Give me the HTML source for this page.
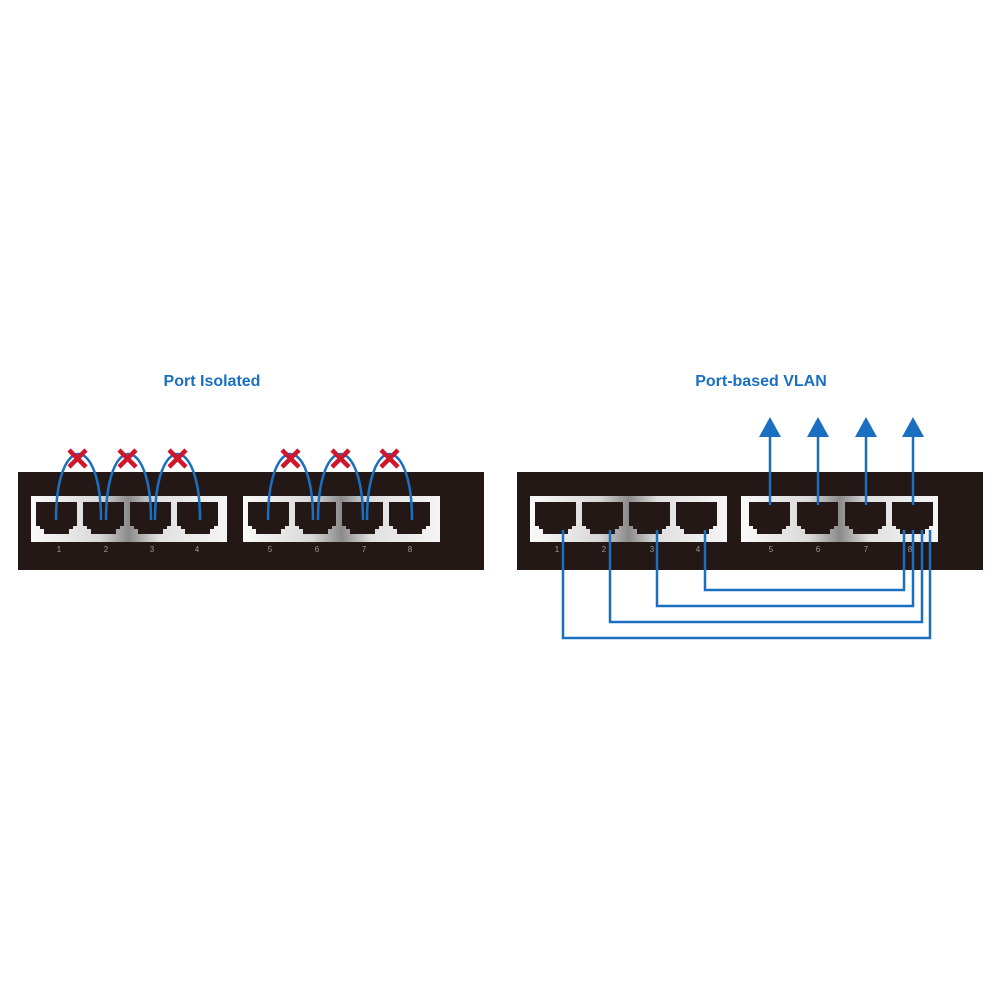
<!DOCTYPE html>
<html><head><style>body{margin:0;background:#fff}svg{display:block}</style></head><body>
<svg width="1000" height="1000" viewBox="0 0 1000 1000" xmlns="http://www.w3.org/2000/svg">
<defs>
<linearGradient id="sil" x1="0" x2="1" y1="0" y2="0">
<stop offset="0" stop-color="#fafafa"/><stop offset="0.35" stop-color="#d8d8d8"/><stop offset="0.5" stop-color="#8a8a8a"/><stop offset="0.65" stop-color="#e0e0e0"/><stop offset="1" stop-color="#f5f5f5"/>
</linearGradient>
<path id="port" d="M0,0 H41 V24 H37 V27 H33 V32 H8 V27 H4 V24 H0 Z" fill="#231815"/>
</defs>
<g font-family="Liberation Sans, sans-serif" font-weight="bold" font-size="16" fill="#1a6fc0" text-anchor="middle">
<text x="212" y="386">Port Isolated</text>
<text x="761" y="386">Port-based VLAN</text>
</g>
<rect x="18" y="472" width="466" height="98" fill="#231815"/>
<rect x="31" y="496" width="196" height="46" fill="url(#sil)"/>
<rect x="243" y="496" width="197" height="46" fill="url(#sil)"/>
<g>
<use href="#port" x="36" y="502"/><use href="#port" x="83" y="502"/><use href="#port" x="130" y="502"/><use href="#port" x="177" y="502"/>
<use href="#port" x="248" y="502"/><use href="#port" x="295" y="502"/><use href="#port" x="342" y="502"/><use href="#port" x="389" y="502"/>
</g>
<g font-family="Liberation Sans, sans-serif" font-size="8" fill="#999" text-anchor="middle">
<text x="59" y="552">1</text><text x="106" y="552">2</text><text x="152" y="552">3</text><text x="197" y="552">4</text>
<text x="270" y="552">5</text><text x="317" y="552">6</text><text x="364" y="552">7</text><text x="410" y="552">8</text>
</g>
<g fill="none" stroke="#1a6fc0" stroke-width="2.5">
<path d="M56,520 C56,432 101,432 101,520"/>
<path d="M106,520 C106,432 151,432 151,520"/>
<path d="M155,520 C155,432 200,432 200,520"/>
<path d="M268,520 C268,432 313,432 313,520"/>
<path d="M318,520 C318,432 363,432 363,520"/>
<path d="M367,520 C367,432 412,432 412,520"/>
</g>
<g stroke="#d0162a" stroke-width="4.5">
<path d="M69,450 L86,467 M86,450 L69,467"/>
<path d="M119,450 L136,467 M136,450 L119,467"/>
<path d="M169,450 L186,467 M186,450 L169,467"/>
<path d="M282,450 L299,467 M299,450 L282,467"/>
<path d="M332,450 L349,467 M349,450 L332,467"/>
<path d="M381,450 L398,467 M398,450 L381,467"/>
</g>
<rect x="517" y="472" width="466" height="98" fill="#231815"/>
<rect x="530" y="496" width="197" height="46" fill="url(#sil)"/>
<rect x="741" y="496" width="197" height="46" fill="url(#sil)"/>
<g>
<use href="#port" x="535" y="502"/><use href="#port" x="582" y="502"/><use href="#port" x="629" y="502"/><use href="#port" x="676" y="502"/>
<use href="#port" x="749" y="502"/><use href="#port" x="797" y="502"/><use href="#port" x="845" y="502"/><use href="#port" x="892" y="502"/>
</g>
<g font-family="Liberation Sans, sans-serif" font-size="8" fill="#999" text-anchor="middle">
<text x="557" y="552">1</text><text x="604" y="552">2</text><text x="652" y="552">3</text><text x="698" y="552">4</text>
<text x="771" y="552">5</text><text x="818" y="552">6</text><text x="866" y="552">7</text><text x="910" y="552">8</text>
</g>
<g fill="none" stroke="#1a6fc0" stroke-width="2.5">
<path d="M770,505 V432 M818,505 V432 M866,505 V432 M913,505 V432"/>
<path d="M705,530 V590 H904 V530"/>
<path d="M657,530 V606 H913 V530"/>
<path d="M610,530 V622 H922 V530"/>
<path d="M563,530 V638 H930 V530"/>
</g>
<g fill="#1a6fc0">
<path d="M770,417 L759,437 H781 Z"/><path d="M818,417 L807,437 H829 Z"/>
<path d="M866,417 L855,437 H877 Z"/><path d="M913,417 L902,437 H924 Z"/>
</g>
</svg>
</body></html>
